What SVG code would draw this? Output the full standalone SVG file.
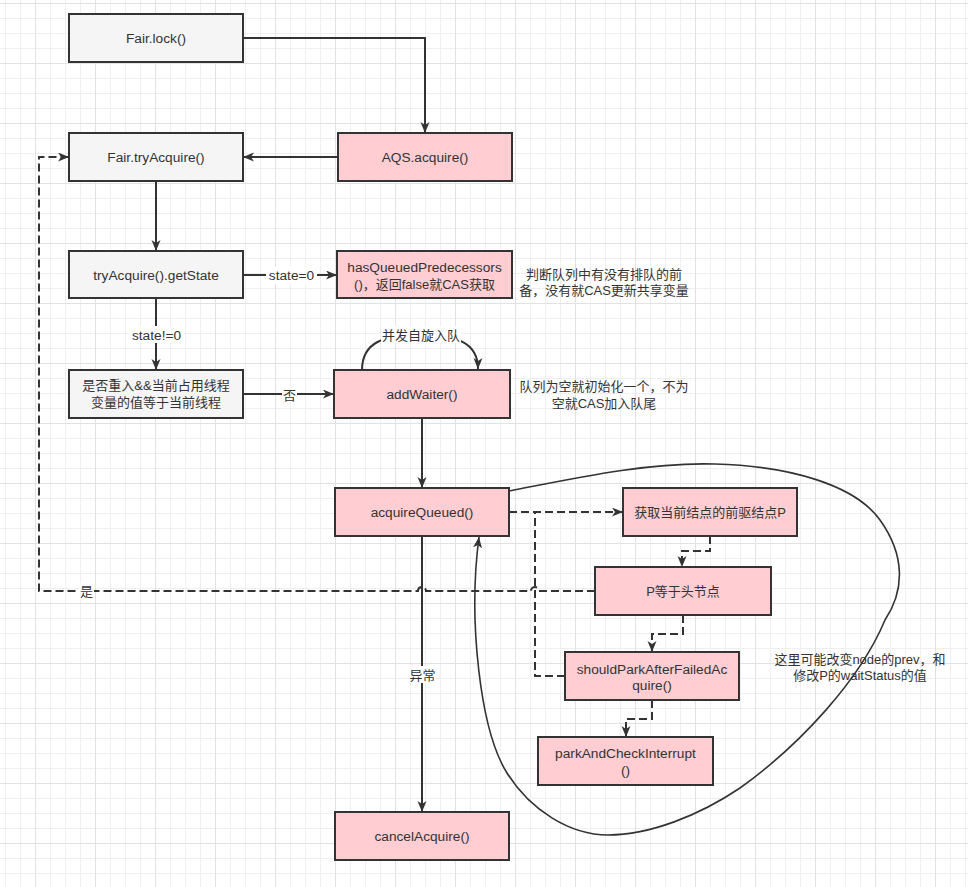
<svg xmlns="http://www.w3.org/2000/svg" width="968" height="887" viewBox="0 0 968 887">
<style>
.t{font-family:"Liberation Sans","Noto Sans CJK SC",sans-serif;font-size:13px;fill:#333;text-anchor:middle}
.l{font-size:13.7px}
.g{fill:#f5f5f5;stroke:#333;stroke-width:2}
.p{fill:#ffcdd2;stroke:#333;stroke-width:2}
.e{fill:none;stroke:#333;stroke-width:2}
.d{fill:none;stroke:#333;stroke-width:2;stroke-dasharray:8 4}
.c{fill:none;stroke:#333;stroke-width:1.6}
.lb{fill:#fff}
</style>
<defs>
<pattern id="grid" patternUnits="userSpaceOnUse" x="5" y="3" width="60" height="60">
<path d="M0.5 0V60M15.5 0V60M45.5 0V60M0 15.5H60M0 30.5H60M0 45.5H60" stroke="#efefef" stroke-width="1" fill="none"/>
<path d="M30.5 0V60M0 0.5H60" stroke="#e2e2e2" stroke-width="1" fill="none"/>
</pattern>
<marker id="arr" markerUnits="userSpaceOnUse" markerWidth="12" markerHeight="10" viewBox="0 0 12 10" refX="11" refY="4.5" orient="auto">
<path d="M0 0L11 4.5L0 9L3 4.5Z" fill="#333" stroke="none"/>
</marker>
</defs>
<rect width="968" height="887" fill="#fff"/>
<rect width="968" height="887" fill="url(#grid)"/>

<g id="connectors">
<path class="e" d="M243 38H425V133" marker-end="url(#arr)"/>
<path class="e" d="M338 157H243" marker-end="url(#arr)"/>
<path class="e" d="M156 181V251" marker-end="url(#arr)"/>
<path class="e" d="M243 275H337" marker-end="url(#arr)"/>
<path class="e" d="M156 298V370" marker-end="url(#arr)"/>
<path class="e" d="M243 394H334" marker-end="url(#arr)"/>
<path class="e" d="M362 370C362 342 384 335 420 335C456 335 478 342 478 369" marker-end="url(#arr)"/>
<path class="e" d="M422 418V488" marker-end="url(#arr)"/>
<path class="e" d="M422 536V812" marker-end="url(#arr)"/>
<path class="d" d="M509 512H623" marker-end="url(#arr)"/>
<path class="d" d="M710 536V551H682V567" marker-end="url(#arr)"/>
<path class="d" d="M683 615V634H652V652" marker-end="url(#arr)"/>
<path class="d" d="M652 700V719H626V737" marker-end="url(#arr)"/>
<path class="d" d="M565 676H535V512H560"/>
<path class="d" d="M595 591H539A4 4 0 0 0 531 591H426A4 4 0 0 0 418 591H39V157H69" marker-end="url(#arr)"/>
<path class="c" d="M509 491C580 477 650 462 715 464C790 466 855 485 880 520C905 555 905 590 885 620C860 680 800 745 740 788C700 815 650 835 608 835C570 835 530 810 507 773C480 730 468 620 479 537" marker-end="url(#arr)"/>
<rect class="lb" x="266" y="267" width="51" height="17"/>
<text class="t l" x="291.5" y="280">state=0</text>
<rect class="lb" x="129" y="326" width="55" height="17"/>
<text class="t l" x="156.5" y="339.5">state!=0</text>
<rect class="lb" x="282" y="386" width="15" height="17"/>
<text class="t" x="289.5" y="399.5">否</text>
<rect class="lb" x="381" y="326" width="80" height="17"/>
<text class="t" x="421" y="339.5">并发自旋入队</text>
<rect class="lb" x="409" y="666" width="27" height="17"/>
<text class="t" x="422.5" y="679.5">异常</text>
<rect class="lb" x="79" y="583" width="15" height="17"/>
<text class="t" x="86.5" y="596">是</text>
</g>

<g id="fair-lock"><rect class="g" x="69" y="14" width="174" height="48"/><text class="t l" x="156" y="42.5">Fair.lock()</text></g>
<g id="fair-tryacquire"><rect class="g" x="69" y="133" width="174" height="48"/><text class="t l" x="156" y="161.5">Fair.tryAcquire()</text></g>
<g id="aqs-acquire"><rect class="p" x="338" y="133" width="174" height="48"/><text class="t l" x="425" y="161.5">AQS.acquire()</text></g>
<g id="getstate"><rect class="g" x="69" y="251" width="174" height="47"/><text class="t l" x="156" y="279.5">tryAcquire().getState</text></g>
<g id="hasqueued"><rect class="p" x="337" y="251" width="175" height="47"/><text class="t l" x="424.5" y="271.5">hasQueuedPredecessors</text><text class="t" x="424.5" y="288.5">()，返回false就CAS获取</text></g>
<g id="note1"><text class="t" x="604" y="278.5">判断队列中有没有排队的前</text><text class="t" x="604" y="295">备，没有就CAS更新共享变量</text></g>
<g id="reentrant"><rect class="g" x="69" y="370" width="174" height="48"/><text class="t" x="156" y="390">是否重入&amp;&amp;当前占用线程</text><text class="t" x="156" y="407">变量的值等于当前线程</text></g>
<g id="addwaiter"><rect class="p" x="334" y="370" width="176" height="48"/><text class="t l" x="422" y="398.5">addWaiter()</text></g>
<g id="note2"><text class="t" x="604" y="391">队列为空就初始化一个，不为</text><text class="t" x="604" y="408">空就CAS加入队尾</text></g>
<g id="acquirequeued"><rect class="p" x="335" y="488" width="174" height="48"/><text class="t l" x="422" y="516.5">acquireQueued()</text></g>
<g id="getprev"><rect class="p" x="623" y="488" width="174" height="48"/><text class="t" x="710" y="516.5">获取当前结点的前驱结点P</text></g>
<g id="p-head"><rect class="p" x="595" y="567" width="176" height="48"/><text class="t" x="683" y="595.5">P等于头节点</text></g>
<g id="shouldpark"><rect class="p" x="565" y="652" width="174" height="48"/><text class="t l" x="652" y="673.5">shouldParkAfterFailedAc</text><text class="t l" x="652" y="689.5">quire()</text></g>
<g id="parkcheck"><rect class="p" x="538" y="737" width="175" height="48"/><text class="t l" x="625.5" y="758">parkAndCheckInterrupt</text><text class="t l" x="625.5" y="774.5">()</text></g>
<g id="cancelacquire"><rect class="p" x="335" y="812" width="174" height="48"/><text class="t l" x="422" y="840.5">cancelAcquire()</text></g>
<g id="note3"><text class="t" x="860" y="663.5">这里可能改变node的prev，和</text><text class="t" x="860" y="679.5">修改P的waitStatus的值</text></g>
</svg>
